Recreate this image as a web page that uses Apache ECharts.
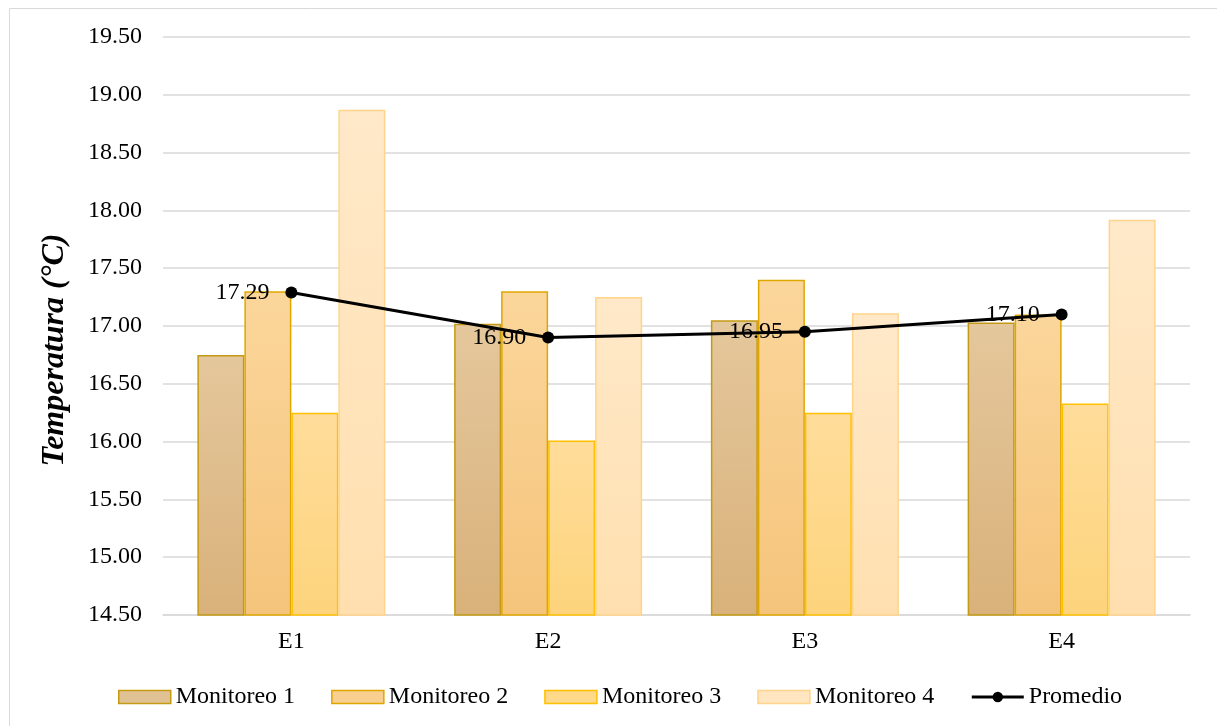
<!DOCTYPE html>
<html>
<head>
<meta charset="utf-8">
<script src="https://cdn.jsdelivr.net/npm/echarts@6/dist/echarts.min.js"></script>
<style>
  html, body { margin: 0; padding: 0; background: #fff; }
  #chart { width: 1217px; height: 726px; }
</style>
</head>
<body>
<div id="chart"></div>
<script>
// Stations and temperature readings (°C) for each monitoring campaign
const categories = ['E1', 'E2', 'E3', 'E4'];
const monitoreo1 = [16.75, 17.02, 17.05, 17.03];
const monitoreo2 = [17.30, 17.30, 17.40, 17.10];
const monitoreo3 = [16.25, 16.01, 16.25, 16.33];
const monitoreo4 = [18.87, 17.25, 17.11, 17.92];
const promedio = [17.29, 16.90, 16.95, 17.10];

const FONT = '"Liberation Serif", "Times New Roman", serif';

function grad(top, bottom) {
  return new echarts.graphic.LinearGradient(0, 0, 0, 1, [
    { offset: 0, color: top },
    { offset: 1, color: bottom }
  ]);
}

function barSeries(name, data, top, bottom, border) {
  return {
    name: name,
    type: 'bar',
    data: data,
    barWidth: 47,
    barGap: '0%',
    itemStyle: { color: grad(top, bottom), borderColor: border, borderWidth: 1.5 }
  };
}

const chart = echarts.init(document.getElementById('chart'), null, { renderer: 'canvas' });

chart.setOption({
  animation: false,
  backgroundColor: '#ffffff',
  textStyle: { fontFamily: FONT },
  graphic: [{
    type: 'rect',
    shape: { x: 9.5, y: 8.5, width: 1230, height: 740 },
    style: { fill: 'none', stroke: '#d9d9d9', lineWidth: 1 },
    silent: true
  }],
  grid: { left: 163, right: 27, top: 37, bottom: 111, containLabel: false },
  legend: {
    top: 680,
    left: 113,
    itemWidth: 52,
    itemHeight: 13,
    itemGap: 36,
    textStyle: { fontFamily: FONT, fontSize: 24, color: '#000' },
    data: [
      { name: 'Monitoreo 1', icon: 'rect', itemStyle: { color: '#e0c194', borderColor: '#c49a14', borderWidth: 1.5 } },
      { name: 'Monitoreo 2', icon: 'rect', itemStyle: { color: '#f8cf8e', borderColor: '#dfa600', borderWidth: 1.5 } },
      { name: 'Monitoreo 3', icon: 'rect', itemStyle: { color: '#fed98a', borderColor: '#ffc000', borderWidth: 1.5 } },
      { name: 'Monitoreo 4', icon: 'rect', itemStyle: { color: '#ffe6c0', borderColor: '#ffd48a', borderWidth: 1.5 } },
      { name: 'Promedio', lineStyle: { width: 3, color: '#000' } }
    ]
  },
  xAxis: {
    type: 'category',
    data: categories,
    axisLine: { lineStyle: { color: '#d9d9d9', width: 1.5 } },
    axisTick: { show: false },
    axisLabel: { fontFamily: FONT, fontSize: 24, color: '#000', margin: 15 }
  },
  yAxis: {
    type: 'value',
    min: 14.5,
    max: 19.5,
    interval: 0.5,
    name: 'Temperatura (°C)',
    nameLocation: 'middle',
    nameGap: 92,
    nameTextStyle: {
      fontFamily: FONT, fontSize: 32, fontWeight: 'bold', fontStyle: 'italic', color: '#000',
      padding: [0, 48, 0, 0]
    },
    axisLine: { show: false },
    axisTick: { show: false },
    splitLine: { lineStyle: { color: '#d9d9d9', width: 1.5 } },
    axisLabel: {
      fontFamily: FONT, fontSize: 24, color: '#000', margin: 21,
      formatter: v => v.toFixed(2)
    }
  },
  series: [
    barSeries('Monitoreo 1', monitoreo1, '#e4c79c', '#d9b17a', '#c49a14'),
    barSeries('Monitoreo 2', monitoreo2, '#fbd69b', '#f5c47b', '#dfa600'),
    barSeries('Monitoreo 3', monitoreo3, '#ffdc9a', '#fdd47c', '#ffc000'),
    barSeries('Monitoreo 4', monitoreo4, '#ffe9c9', '#ffdfae', '#ffd48a'),
    {
      name: 'Promedio',
      type: 'line',
      data: promedio,
      symbol: 'circle',
      symbolSize: 12,
      z: 5,
      lineStyle: { color: '#000', width: 3 },
      itemStyle: { color: '#000' },
      label: {
        show: true,
        position: 'left',
        distance: 16,
        fontFamily: FONT,
        fontSize: 24,
        color: '#000',
        formatter: p => p.value.toFixed(2)
      }
    }
  ]
});
</script>
</body>
</html>
